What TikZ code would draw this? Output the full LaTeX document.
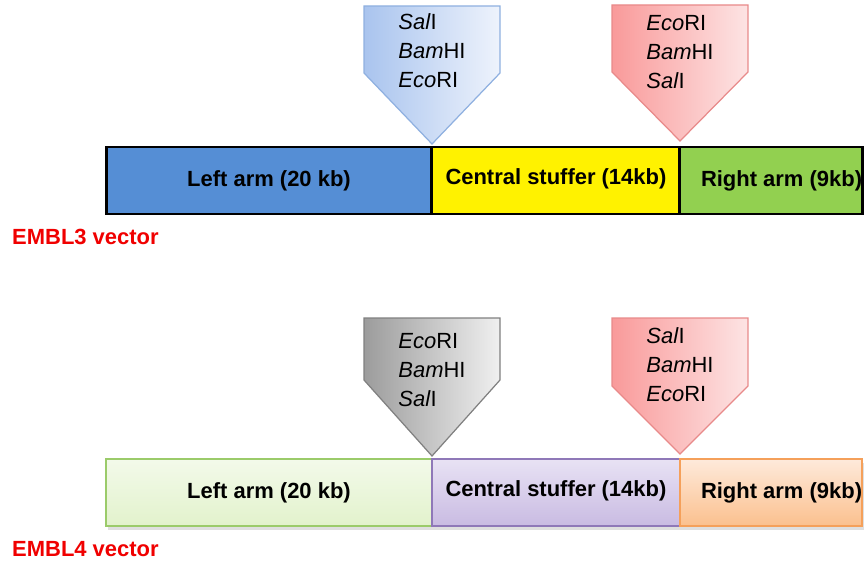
\documentclass[tikz,border=0pt]{standalone}
\usepackage{fontspec}
\setmainfont{Liberation Sans}
\usepackage{xcolor}
\usetikzlibrary{positioning, shadows}

\definecolor{armblue}{HTML}{558ED5}
\definecolor{armgreen}{HTML}{92D050}
\definecolor{paleblue}{HTML}{A9C4EE}
\definecolor{paleblueR}{HTML}{EEF3FC}
\definecolor{siteblue}{HTML}{8FB0E0}
\definecolor{palered}{HTML}{F99A9A}
\definecolor{paleredR}{HTML}{FDE4E4}
\definecolor{sitered}{HTML}{E88A8A}
\definecolor{greyL}{HTML}{9C9C9C}
\definecolor{greyR}{HTML}{F0F0F0}
\definecolor{lgreenT}{HTML}{F3FAEA}
\definecolor{lgreenB}{HTML}{E2F2CC}
\definecolor{lgreenD}{HTML}{9BCB6A}
\definecolor{lilacT}{HTML}{E8E2F4}
\definecolor{lilacB}{HTML}{C9BBE2}
\definecolor{lilacD}{HTML}{8F78B8}
\definecolor{peachT}{HTML}{FEEADB}
\definecolor{peachB}{HTML}{FBC08E}
\definecolor{peachD}{HTML}{F5A05A}
\definecolor{vecred}{HTML}{F00000}

\begin{document}
\begin{tikzpicture}[
    x=0.02cm, y=-0.02cm,
    txt/.style={font=\fontsize{12.5}{15}\selectfont},
    seg/.style={txt, font=\bfseries\fontsize{12.5}{15}\selectfont,
                minimum height=1.34cm, inner sep=0pt, outer sep=0pt},
    oldseg/.style={seg, draw=black, line width=1.7pt},
    newseg/.style={seg, line width=0.9pt,
                   drop shadow={opacity=0.25, shadow xshift=1pt, shadow yshift=-2pt}},
    enz/.style={txt, align=left, font=\fontsize{12.5}{16.5}\selectfont},
    site/.style={line width=0.7pt},
    veclabel/.style={anchor=west, text=vecred, font=\bfseries\fontsize{12.5}{15}\selectfont}
  ]
  \useasboundingbox (0,0) rectangle (864,564);

  % EMBL3
  \draw[site, draw=siteblue, left color=paleblue, right color=paleblueR]
    (364,6) -- (500,6) -- (500,73) -- (432,144) -- (364,73) -- cycle;
  \draw[site, draw=sitered, left color=palered, right color=paleredR]
    (612,5) -- (748,5) -- (748,72) -- (680,141) -- (612,72) -- cycle;
  \node[enz] (cut3a) at (432,51) {\textit{Sal}I\\\textit{Bam}HI\\\textit{Eco}RI};
  \node[enz] (cut3b) at (680,52) {\textit{Eco}RI\\\textit{Bam}HI\\\textit{Sal}I};

  \node[oldseg, fill=armblue, minimum width=6.52cm] (left3) at (269,180.5) {Left arm (20 kb)};
  \node[oldseg, fill=yellow, minimum width=4.96cm, right=0pt of left3] (mid3)
    {\raisebox{4pt}{Central stuffer (14kb)}};
  \node[oldseg, fill=armgreen, minimum width=3.6cm, right=0pt of mid3] (right3)
    {\hspace{12pt}Right arm (9kb)};
  \node[veclabel] (embl3) at (6,237) {EMBL3 vector};

  % EMBL4
  \draw[site, draw=gray, left color=greyL, right color=greyR]
    (364,318) -- (500,318) -- (500,380) -- (432,456) -- (364,380) -- cycle;
  \draw[site, draw=sitered, left color=palered, right color=paleredR]
    (612,318) -- (748,318) -- (748,386) -- (680,454) -- (612,386) -- cycle;
  \node[enz] (cut4a) at (432,370) {\textit{Eco}RI\\\textit{Bam}HI\\\textit{Sal}I};
  \node[enz] (cut4b) at (680,365) {\textit{Sal}I\\\textit{Bam}HI\\\textit{Eco}RI};

  \node[newseg, draw=lgreenD, top color=lgreenT, bottom color=lgreenB,
        minimum width=6.52cm] (left4) at (269,492.5) {Left arm (20 kb)};
  \node[newseg, draw=lilacD, top color=lilacT, bottom color=lilacB,
        minimum width=4.96cm, right=0pt of left4] (mid4)
    {\raisebox{4pt}{Central stuffer (14kb)}};
  \node[newseg, draw=peachD, top color=peachT, bottom color=peachB,
        minimum width=3.64cm, right=0pt of mid4] (right4)
    {\hspace{12pt}Right arm (9kb)};
  \node[veclabel] (embl4) at (6,549) {EMBL4 vector};
\end{tikzpicture}
\end{document}
